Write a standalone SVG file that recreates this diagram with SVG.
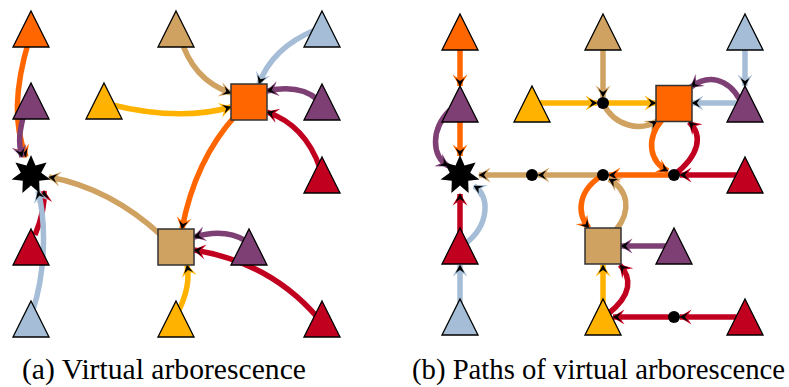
<svg xmlns="http://www.w3.org/2000/svg" width="789" height="387" viewBox="0 0 789 387">
<style>
.e{fill:none;stroke-width:5.5;stroke-linecap:butt}
.o{stroke:#FF6600}.p{stroke:#7E3F75}.t{stroke:#CFA262}.y{stroke:#FFB300}.b{stroke:#A5BDD7}.r{stroke:#C10020}
.eo{marker-end:url(#mo)}.ep{marker-end:url(#mp)}.et{marker-end:url(#mt)}.ey{marker-end:url(#my)}.eb{marker-end:url(#mb)}.er{marker-end:url(#mr)}
.tri{stroke:#000;stroke-width:1.3;stroke-linejoin:miter}
.sq{stroke:#333;stroke-width:1.5}
.dot{fill:#000}
.cap{font-family:"Liberation Serif","Times New Roman",serif;font-size:29px;fill:#000}
</style>
<defs>
<path id="tr" d="M0,0 L18,36 L-18,36 Z"/>
<path id="st" d="M0,-20 L4.5,-9.5 L15.6,-12.4 L10.2,-2.3 L19.5,4.4 L8.2,5.7 L8.6,18 L0,10.5 L-8.6,18 L-8.2,5.7 L-19.5,4.4 L-10.2,-2.3 L-15.6,-12.4 L-4.5,-9.5 Z"/>
<marker id="mo" markerUnits="userSpaceOnUse" markerWidth="16" markerHeight="16" viewBox="-13 -8 16 16" refX="0" refY="0" orient="auto" overflow="visible"><path d="M1,0 L-11.5,-7.5 L-6.5,0 L-11.5,7.5 Z" fill="#FF6600"/><path d="M0.5,0 L-8,-4.5 L-5,0 L-8,4.5 Z" fill="#000"/></marker>
<marker id="mp" markerUnits="userSpaceOnUse" markerWidth="16" markerHeight="16" viewBox="-13 -8 16 16" refX="0" refY="0" orient="auto" overflow="visible"><path d="M1,0 L-11.5,-7.5 L-6.5,0 L-11.5,7.5 Z" fill="#7E3F75"/><path d="M0.5,0 L-8,-4.5 L-5,0 L-8,4.5 Z" fill="#000"/></marker>
<marker id="mt" markerUnits="userSpaceOnUse" markerWidth="16" markerHeight="16" viewBox="-13 -8 16 16" refX="0" refY="0" orient="auto" overflow="visible"><path d="M1,0 L-11.5,-7.5 L-6.5,0 L-11.5,7.5 Z" fill="#CFA262"/><path d="M0.5,0 L-8,-4.5 L-5,0 L-8,4.5 Z" fill="#000"/></marker>
<marker id="my" markerUnits="userSpaceOnUse" markerWidth="16" markerHeight="16" viewBox="-13 -8 16 16" refX="0" refY="0" orient="auto" overflow="visible"><path d="M1,0 L-11.5,-7.5 L-6.5,0 L-11.5,7.5 Z" fill="#FFB300"/><path d="M0.5,0 L-8,-4.5 L-5,0 L-8,4.5 Z" fill="#000"/></marker>
<marker id="mb" markerUnits="userSpaceOnUse" markerWidth="16" markerHeight="16" viewBox="-13 -8 16 16" refX="0" refY="0" orient="auto" overflow="visible"><path d="M1,0 L-11.5,-7.5 L-6.5,0 L-11.5,7.5 Z" fill="#A5BDD7"/><path d="M0.5,0 L-8,-4.5 L-5,0 L-8,4.5 Z" fill="#000"/></marker>
<marker id="mr" markerUnits="userSpaceOnUse" markerWidth="16" markerHeight="16" viewBox="-13 -8 16 16" refX="0" refY="0" orient="auto" overflow="visible"><path d="M1,0 L-11.5,-7.5 L-6.5,0 L-11.5,7.5 Z" fill="#C10020"/><path d="M0.5,0 L-8,-4.5 L-5,0 L-8,4.5 Z" fill="#000"/></marker>
</defs>
<rect width="789" height="387" fill="#fff"/>
<g id="connectors">
<!-- part a -->
<path class="e o eo" d="M29,40 C14,90 14,125 26,157"/>
<path class="e p ep" d="M25,110 C19,132 18,142 22,157"/>
<path class="e t et" d="M162,236 Q110,188 49,177"/>
<path class="e r er" d="M35,235 C42,218 45,205 44,191"/>
<path class="e b eb" d="M33,310 C46,270 46,220 38,191"/>
<path class="e t et" d="M180,36 Q192,80 231,93"/>
<path class="e b eb" d="M315,30 Q272,48 259,84"/>
<path class="e y ey" d="M108,104 Q180,122 231,107"/>
<path class="e p ep" d="M318,100 Q300,84 267,91"/>
<path class="e r er" d="M320,168 Q305,125 267,112"/>
<path class="e o eo" d="M236,115 Q195,160 182,229"/>
<path class="e p ep" d="M246,241 Q225,228 194,237"/>
<path class="e r er" d="M318,318 Q270,262 194,250"/>
<path class="e y ey" d="M179,310 Q191,285 187,265"/>
<!-- part b -->
<path class="e o eo" d="M460,45 L460,86"/>
<path class="e o eo" d="M460,115 L460,156"/>
<path class="e p ep" d="M450,110 C430,130 432,156 448,166"/>
<path class="e r er" d="M460,235 L460,194"/>
<path class="e b eb" d="M460,310 L460,265"/>
<path class="e b eb" d="M465,244 C490,225 490,195 474,186"/>
<path class="e t et" d="M603,175 L538,175"/>
<path class="e t et" d="M532,175 L479,175"/>
<path class="e t et" d="M603,45 L603,97"/>
<path class="e y ey" d="M532,103 L597,103"/>
<path class="e y ey" d="M603,103 L656,103"/>
<path class="e t et" d="M603,103 C614,126 640,132 657,121"/>
<path class="e b eb" d="M745,45 L745,86"/>
<path class="e b eb" d="M745,103 L692,103"/>
<path class="e p ep" d="M740,100 C728,78 708,74 691,87"/>
<path class="e r er" d="M674,175 C700,155 703,135 689,122"/>
<path class="e o eo" d="M662,120 C645,140 650,162 668,171"/>
<path class="e o eo" d="M674,175 L609,175"/>
<path class="e r er" d="M745,175 L680,175"/>
<path class="e o eo" d="M603,175 C578,190 576,213 589,228"/>
<path class="e t et" d="M616,230 C632,210 628,190 609,179"/>
<path class="e p ep" d="M674,246 L621,246"/>
<path class="e y ey" d="M603,310 L603,265"/>
<path class="e r er" d="M608,314 C632,295 632,278 620,265"/>
<path class="e r er" d="M745,317 L680,317"/>
<path class="e r er" d="M674,317 L613,317"/>
</g>
<!-- part a nodes -->
<g id="a_tri_orange"><use href="#tr" x="31" y="11" class="tri" fill="#FF6600"/></g>
<g id="a_tri_purple1"><use href="#tr" x="31" y="83" class="tri" fill="#7E3F75"/></g>
<g id="a_star"><use href="#st" x="31" y="175" fill="#000"/></g>
<g id="a_tri_red1"><use href="#tr" x="31" y="229" class="tri" fill="#C10020"/></g>
<g id="a_tri_blue1"><use href="#tr" x="31" y="301" class="tri" fill="#A5BDD7"/></g>
<g id="a_tri_yellow1"><use href="#tr" x="104" y="83" class="tri" fill="#FFB300"/></g>
<g id="a_tri_tan"><use href="#tr" x="176" y="11" class="tri" fill="#CFA262"/></g>
<g id="a_sq_orange"><rect x="231" y="84" width="36" height="36" class="sq" fill="#FF6600"/></g>
<g id="a_tri_blue2"><use href="#tr" x="322" y="11" class="tri" fill="#A5BDD7"/></g>
<g id="a_tri_purple2"><use href="#tr" x="322" y="84" class="tri" fill="#7E3F75"/></g>
<g id="a_tri_red2"><use href="#tr" x="322" y="157" class="tri" fill="#C10020"/></g>
<g id="a_sq_tan"><rect x="158" y="229" width="36" height="36" class="sq" fill="#CFA262"/></g>
<g id="a_tri_purple3"><use href="#tr" x="249" y="229" class="tri" fill="#7E3F75"/></g>
<g id="a_tri_yellow2"><use href="#tr" x="176" y="301" class="tri" fill="#FFB300"/></g>
<g id="a_tri_red3"><use href="#tr" x="322" y="301" class="tri" fill="#C10020"/></g>
<!-- part b nodes -->
<g id="b_tri_orange"><use href="#tr" x="460" y="14" class="tri" fill="#FF6600"/></g>
<g id="b_tri_purple1"><use href="#tr" x="460" y="86" class="tri" fill="#7E3F75"/></g>
<g id="b_star"><use href="#st" x="460" y="175" fill="#000"/></g>
<g id="b_tri_red1"><use href="#tr" x="460" y="228" class="tri" fill="#C10020"/></g>
<g id="b_tri_blue1"><use href="#tr" x="460" y="299" class="tri" fill="#A5BDD7"/></g>
<g id="b_tri_yellow1"><use href="#tr" x="532" y="86" class="tri" fill="#FFB300"/></g>
<g id="b_tri_tan"><use href="#tr" x="603" y="14" class="tri" fill="#CFA262"/></g>
<g id="b_dot1"><circle cx="603" cy="103" r="6" class="dot"/></g>
<g id="b_sq_orange"><rect x="656" y="85.5" width="36" height="36" class="sq" fill="#FF6600"/></g>
<g id="b_tri_blue2"><use href="#tr" x="745" y="14" class="tri" fill="#A5BDD7"/></g>
<g id="b_tri_purple2"><use href="#tr" x="745" y="86" class="tri" fill="#7E3F75"/></g>
<g id="b_dot2"><circle cx="532" cy="175" r="6" class="dot"/></g>
<g id="b_dot3"><circle cx="603" cy="175" r="6" class="dot"/></g>
<g id="b_dot4"><circle cx="674" cy="175" r="6" class="dot"/></g>
<g id="b_tri_red2"><use href="#tr" x="745" y="157" class="tri" fill="#C10020"/></g>
<g id="b_sq_tan"><rect x="585" y="228" width="36" height="36" class="sq" fill="#CFA262"/></g>
<g id="b_tri_purple3"><use href="#tr" x="674" y="228" class="tri" fill="#7E3F75"/></g>
<g id="b_tri_yellow2"><use href="#tr" x="603" y="299" class="tri" fill="#FFB300"/></g>
<g id="b_dot5"><circle cx="674" cy="317" r="6" class="dot"/></g>
<g id="b_tri_red3"><use href="#tr" x="745" y="299" class="tri" fill="#C10020"/></g>
<text class="cap" x="22" y="379" textLength="284" lengthAdjust="spacingAndGlyphs">(a) Virtual arborescence</text>
<text class="cap" x="412" y="379" textLength="373" lengthAdjust="spacingAndGlyphs">(b) Paths of virtual arborescence</text>
</svg>
